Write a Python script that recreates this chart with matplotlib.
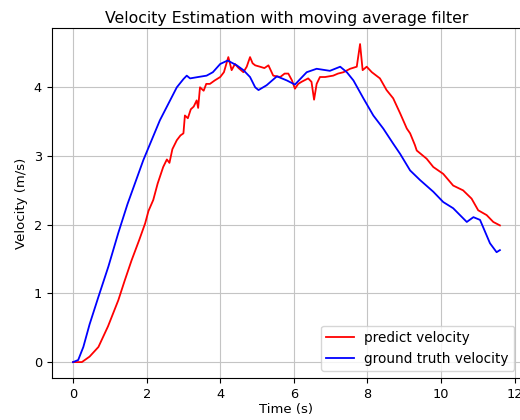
import matplotlib

matplotlib.use("Agg")
import matplotlib.pyplot as plt

# ground truth velocity
gt_t = [0.0, 0.14, 0.28, 0.45, 0.69, 0.96, 1.23, 1.48, 1.91, 2.36, 2.82, 3.00,
        3.09, 3.18, 3.40, 3.63, 3.80, 4.00, 4.20, 4.45, 4.63, 4.81, 4.95, 5.04,
        5.26, 5.54, 5.81, 6.03, 6.35, 6.62, 6.98, 7.26, 7.44, 7.62, 7.89, 8.16,
        8.43, 8.70, 8.89, 9.16, 9.43, 9.79, 10.06, 10.33, 10.70, 10.88, 11.06,
        11.33, 11.51, 11.60]
gt_v = [0.0, 0.03, 0.22, 0.55, 0.95, 1.39, 1.88, 2.30, 2.94, 3.52, 4.00, 4.12,
        4.17, 4.13, 4.15, 4.17, 4.22, 4.34, 4.39, 4.32, 4.25, 4.15, 4.00, 3.96,
        4.03, 4.16, 4.10, 4.04, 4.22, 4.27, 4.24, 4.30, 4.22, 4.10, 3.84, 3.59,
        3.40, 3.18, 3.03, 2.79, 2.65, 2.48, 2.33, 2.24, 2.04, 2.11, 2.07,
        1.73, 1.60, 1.63]

# predicted velocity (moving average filter output)
pred_t = [0.0, 0.24, 0.45, 0.69, 0.95, 1.23, 1.40, 1.59, 1.80, 1.96, 2.05, 2.18,
          2.30, 2.45, 2.55, 2.62, 2.70, 2.82, 2.92, 3.00, 3.04, 3.12, 3.20, 3.28,
          3.36, 3.40, 3.45, 3.55, 3.62, 3.72, 3.85, 4.00, 4.10, 4.22, 4.31, 4.40,
          4.50, 4.63, 4.72, 4.81, 4.88, 4.95, 5.08, 5.20, 5.31, 5.44, 5.63, 5.75,
          5.85, 5.95, 6.03, 6.12, 6.21, 6.39, 6.48, 6.55, 6.62, 6.71, 6.85, 7.07,
          7.20, 7.35, 7.53, 7.71, 7.80, 7.87, 7.98, 8.12, 8.34, 8.52, 8.70, 8.89,
          9.07, 9.16, 9.29, 9.34, 9.61, 9.79, 10.06, 10.33, 10.60, 10.83, 11.01,
          11.24, 11.42, 11.60]
pred_v = [0.0, 0.0, 0.08, 0.22, 0.52, 0.90, 1.18, 1.48, 1.78, 2.02, 2.20, 2.36,
          2.60, 2.84, 2.95, 2.90, 3.10, 3.23, 3.30, 3.33, 3.59, 3.55, 3.68, 3.72,
          3.81, 3.70, 4.00, 3.95, 4.05, 4.05, 4.10, 4.15, 4.22, 4.44, 4.25, 4.34,
          4.28, 4.22, 4.30, 4.44, 4.35, 4.32, 4.30, 4.28, 4.32, 4.17, 4.15, 4.20,
          4.20, 4.10, 3.98, 4.05, 4.08, 4.13, 4.08, 3.82, 4.05, 4.15, 4.15, 4.17,
          4.20, 4.22, 4.27, 4.30, 4.63, 4.25, 4.30, 4.22, 4.13, 3.96, 3.84, 3.62,
          3.40, 3.33, 3.16, 3.08, 2.96, 2.84, 2.74, 2.57, 2.50, 2.38, 2.21,
          2.14, 2.04, 1.99]

fig = plt.figure(figsize=(5.2, 4.2), dpi=100)
ax = fig.add_axes([0.0994, 0.1, 0.903, 0.833])

ax.plot(pred_t, pred_v, color="red", lw=1.3, label="predict velocity")
ax.plot(gt_t, gt_v, color="blue", lw=1.3, label="ground truth velocity")

ax.set_xticks([0, 2, 4, 6, 8, 10, 12])
ax.set_yticks([0, 1, 2, 3, 4])
ax.tick_params(labelsize=9.3)
ax.grid(True, color="#c4c4c4", lw=0.8)
ax.set_xlabel("Time (s)", fontsize=9.5, labelpad=2)
ax.set_ylabel("Velocity (m/s)", fontsize=9.5)
ax.set_title("Velocity Estimation with moving average filter", fontsize=11.3, pad=4)
ax.legend(loc="lower right", fontsize=9.8)

fig.savefig("out.png", dpi=100)
plt.close(fig)
